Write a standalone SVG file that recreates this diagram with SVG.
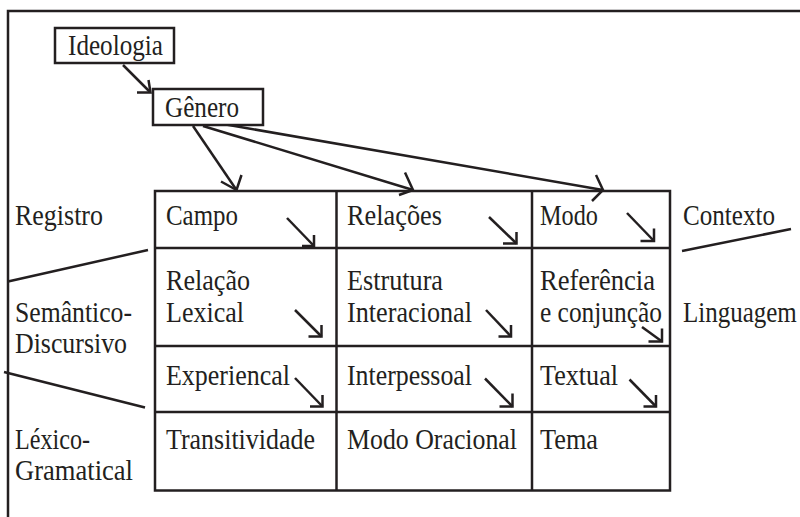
<svg xmlns="http://www.w3.org/2000/svg" width="800" height="517" viewBox="0 0 800 517">
<style>
text{font-family:"Liberation Serif","DejaVu Serif",serif;font-size:29px;fill:#231f20}
.ln{stroke:#231f20;stroke-width:2.5;fill:none;stroke-linecap:butt}
.box{stroke:#231f20;stroke-width:2.5;fill:#fff}
</style>
<rect width="800" height="517" fill="#fff"/>
<g id="frame">
<polyline class="ln" points="8,517 8,11 800,11"/>
</g>
<g id="connectors">
<line class="ln" x1="123" y1="65" x2="150" y2="92"/>
<polyline class="ln" points="148.5,80 150.5,92.5 137,92.5"/>
<line class="ln" x1="193" y1="126" x2="236.5" y2="190"/>
<polyline class="ln" points="221,181.5 236.5,190 241.5,175"/>
<line class="ln" x1="203" y1="126" x2="413" y2="190"/>
<polyline class="ln" points="405,172.5 413,190 399,195"/>
<line class="ln" x1="223" y1="124" x2="603" y2="190"/>
<polyline class="ln" points="596,175 603,190 592,201"/>
<line class="ln" x1="8" y1="281.5" x2="148" y2="250"/>
<line class="ln" x1="4" y1="372" x2="145" y2="407.5"/>
<line class="ln" x1="682" y1="251" x2="791" y2="229"/>
<g id="small-arrows">
<line class="ln" x1="287" y1="218" x2="314" y2="246"/><polyline class="ln" points="314,235 314,246 302,246"/>
<line class="ln" x1="489" y1="217" x2="516.5" y2="243.5"/><polyline class="ln" points="516.5,232 516.5,243.5 503,243.5"/>
<line class="ln" x1="627" y1="213" x2="654" y2="241"/><polyline class="ln" points="654,228.5 654,241 640.5,241"/>
<line class="ln" x1="295" y1="310" x2="321.5" y2="336.5"/><polyline class="ln" points="321.5,325 321.5,336.5 308.5,336.5"/>
<line class="ln" x1="486" y1="310" x2="511" y2="336.5"/><polyline class="ln" points="511,325 511,336.5 498.5,336.5"/>
<line class="ln" x1="642" y1="327" x2="662" y2="341.5"/><polyline class="ln" points="662,328.5 662,341.5 648.5,341.5"/>
<line class="ln" x1="295" y1="378" x2="322.5" y2="406.5"/><polyline class="ln" points="322.5,395 322.5,406.5 310,406.5"/>
<line class="ln" x1="485" y1="378.5" x2="512.5" y2="406.5"/><polyline class="ln" points="512.5,393.5 512.5,406.5 499.5,406.5"/>
<line class="ln" x1="629.5" y1="379.5" x2="656" y2="406.5"/><polyline class="ln" points="656,395 656,406.5 643.5,406.5"/>
</g>
</g>
<g id="ideologia">
<rect class="box" x="55" y="28" width="119" height="35"/>
<text x="68" y="55" textLength="95" lengthAdjust="spacingAndGlyphs">Ideologia</text>
</g>
<g id="genero">
<rect class="box" x="153" y="89" width="110" height="36"/>
<text x="165" y="117" textLength="74" lengthAdjust="spacingAndGlyphs">Gênero</text>
</g>
<g id="table">
<rect class="ln" x="155" y="191" width="515" height="299.5"/>
<line class="ln" x1="336.5" y1="191" x2="336.5" y2="490.5"/>
<line class="ln" x1="532" y1="191" x2="532" y2="490.5"/>
<line class="ln" x1="155" y1="248" x2="670" y2="248"/>
<line class="ln" x1="155" y1="346" x2="670" y2="346"/>
<line class="ln" x1="155" y1="412" x2="670" y2="412"/>
</g>
<g id="labels">
<text x="15" y="225" textLength="88" lengthAdjust="spacingAndGlyphs">Registro</text>
<text x="15" y="322" textLength="117" lengthAdjust="spacingAndGlyphs">Semântico-</text>
<text x="15" y="353" textLength="112" lengthAdjust="spacingAndGlyphs">Discursivo</text>
<text x="15" y="449" textLength="75" lengthAdjust="spacingAndGlyphs">Léxico-</text>
<text x="15" y="480" textLength="118" lengthAdjust="spacingAndGlyphs">Gramatical</text>
<text x="683" y="225" textLength="92" lengthAdjust="spacingAndGlyphs">Contexto</text>
<text transform="translate(683,322) scale(1,1.14)" x="0" y="0" style="font-size:25px">Linguagem</text>
</g>
<g id="cell-campo"><text x="166" y="225" textLength="72" lengthAdjust="spacingAndGlyphs">Campo</text></g>
<g id="cell-relacoes"><text x="347" y="225" textLength="95" lengthAdjust="spacingAndGlyphs">Relações</text></g>
<g id="cell-modo"><text x="540" y="225" textLength="58" lengthAdjust="spacingAndGlyphs">Modo</text></g>
<g id="cell-relacao-lexical"><text x="166" y="290" textLength="84" lengthAdjust="spacingAndGlyphs">Relação</text><text x="166" y="322" textLength="78" lengthAdjust="spacingAndGlyphs">Lexical</text></g>
<g id="cell-estrutura"><text x="347" y="290" textLength="96" lengthAdjust="spacingAndGlyphs">Estrutura</text><text x="347" y="322" textLength="125" lengthAdjust="spacingAndGlyphs">Interacional</text></g>
<g id="cell-referencia"><text x="540" y="290" textLength="115" lengthAdjust="spacingAndGlyphs">Referência</text><text x="540" y="322" textLength="122" lengthAdjust="spacingAndGlyphs">e conjunção</text></g>
<g id="cell-experiencal"><text x="166" y="385" textLength="124" lengthAdjust="spacingAndGlyphs">Experiencal</text></g>
<g id="cell-interpessoal"><text x="347" y="385" textLength="125" lengthAdjust="spacingAndGlyphs">Interpessoal</text></g>
<g id="cell-textual"><text x="540" y="385" textLength="78" lengthAdjust="spacingAndGlyphs">Textual</text></g>
<g id="cell-transitividade"><text x="166" y="449" textLength="149" lengthAdjust="spacingAndGlyphs">Transitividade</text></g>
<g id="cell-modo-oracional"><text x="347" y="449" textLength="170" lengthAdjust="spacingAndGlyphs">Modo Oracional</text></g>
<g id="cell-tema"><text x="540" y="449" textLength="58" lengthAdjust="spacingAndGlyphs">Tema</text></g>
</svg>
